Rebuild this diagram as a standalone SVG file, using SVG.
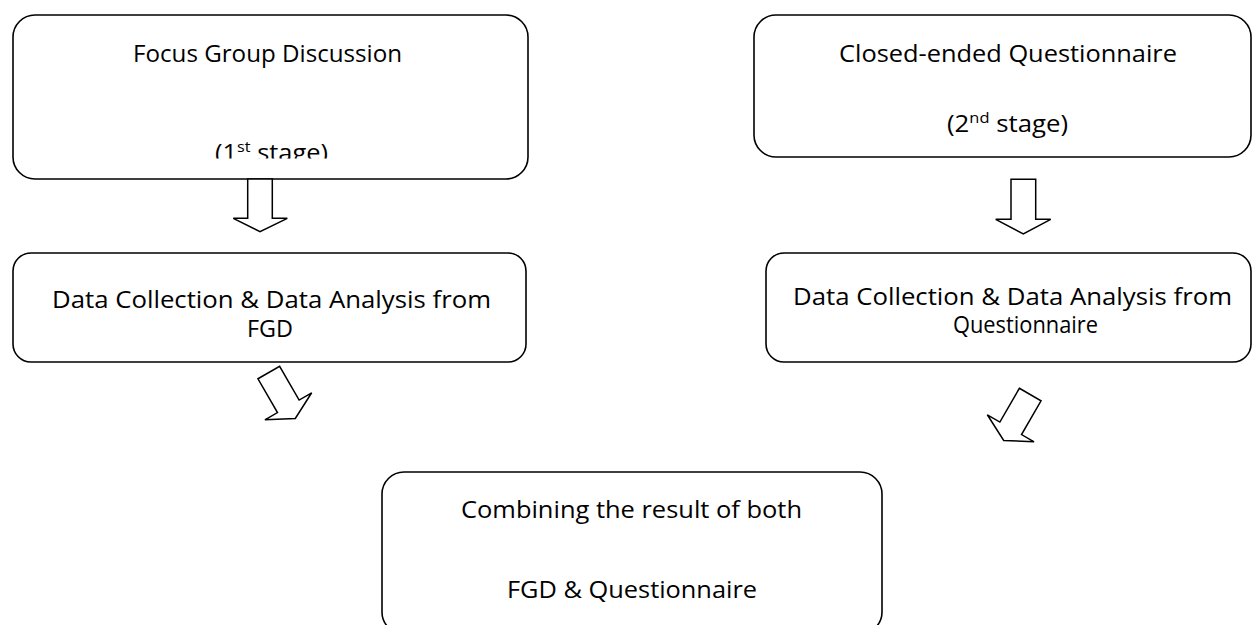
<svg xmlns="http://www.w3.org/2000/svg" width="1252" height="625" viewBox="0 0 1252 625">
  <style>
    .box { fill: #ffffff; stroke: #000000; stroke-width: 1.6; }
    .lbl { font-family: "Open Sans", "Liberation Sans", sans-serif; font-size: 23.5px; fill: #000000; }
    .sup { font-size: 15px; }
    .arr { fill: #ffffff; stroke: #000000; stroke-width: 1.5; stroke-linejoin: miter; }
  </style>
  <defs>
    <clipPath id="clip1">
      <rect x="0" y="0" width="600" height="158.5"/>
    </clipPath>
    <polygon id="diagArrow" points="-12.5,0 12.5,0 12.5,39 27,39 0,53 -27,39 -12.5,39"/>
  </defs>
  <rect width="1252" height="625" fill="#ffffff"/>

  <g id="node-fgd">
    <rect class="box" x="13" y="15" width="515" height="164" rx="22" ry="22"/>
    <text class="lbl" x="133" y="62" textLength="269" lengthAdjust="spacingAndGlyphs">Focus Group Discussion</text>
    <text class="lbl" x="215" y="161" textLength="113" lengthAdjust="spacingAndGlyphs" clip-path="url(#clip1)">(1<tspan class="sup" dy="-9">st</tspan><tspan dy="9"> stage)</tspan></text>
  </g>

  <g id="node-questionnaire">
    <rect class="box" x="754" y="15" width="497" height="142" rx="22" ry="22"/>
    <text class="lbl" x="839" y="62" textLength="338" lengthAdjust="spacingAndGlyphs">Closed-ended Questionnaire</text>
    <text class="lbl" x="947" y="132" textLength="121" lengthAdjust="spacingAndGlyphs">(2<tspan class="sup" dy="-9">nd</tspan><tspan dy="9"> stage)</tspan></text>
  </g>

  <g id="node-analysis-fgd">
    <rect class="box" x="13" y="253" width="513" height="109" rx="18" ry="18"/>
    <text class="lbl" x="52" y="308" textLength="439" lengthAdjust="spacingAndGlyphs">Data Collection &amp; Data Analysis from</text>
    <text class="lbl" x="247" y="337" textLength="46" lengthAdjust="spacingAndGlyphs">FGD</text>
  </g>

  <g id="node-analysis-questionnaire">
    <rect class="box" x="766" y="253" width="485" height="109" rx="18" ry="18"/>
    <text class="lbl" x="793" y="305" textLength="439" lengthAdjust="spacingAndGlyphs">Data Collection &amp; Data Analysis from</text>
    <text class="lbl" x="953" y="333" textLength="145" lengthAdjust="spacingAndGlyphs">Questionnaire</text>
  </g>

  <g id="node-combined">
    <rect class="box" x="382" y="472" width="500" height="162" rx="22" ry="22"/>
    <text class="lbl" x="461" y="518" textLength="341" lengthAdjust="spacingAndGlyphs">Combining the result of both</text>
    <text class="lbl" x="507" y="598" textLength="250" lengthAdjust="spacingAndGlyphs">FGD &amp; Questionnaire</text>
  </g>

  <g id="connectors">
    <polygon class="arr" points="247.7,179 272.3,179 272.3,218.3 287.3,218.3 260,231.7 233.3,218.3 247.7,218.3"/>
    <polygon class="arr" points="1011,179.3 1035.7,179.3 1035.7,219.3 1050.7,219.3 1023.3,234 995.7,219.3 1011,219.3"/>
    <use href="#diagArrow" class="arr" transform="translate(268.8,372.5) rotate(-30)"/>
    <use href="#diagArrow" class="arr" transform="translate(1030.2,394.5) rotate(30)"/>
  </g>
</svg>
